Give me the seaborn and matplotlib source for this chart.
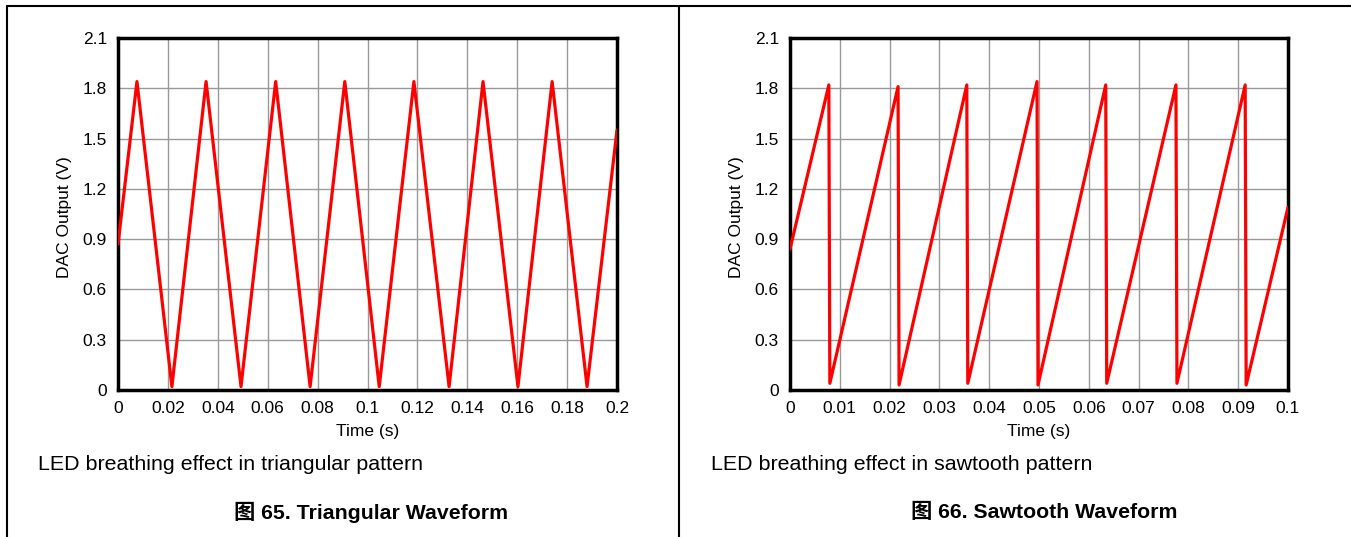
import numpy as np
import pandas as pd
import matplotlib.pyplot as plt
import matplotlib.ticker as mticker
from matplotlib.lines import Line2D
import seaborn as sns

sns.set_style("white")
plt.rcParams['font.family'] = ['Liberation Sans', 'Noto Sans CJK SC', 'DejaVu Sans']
plt.rcParams['text.color'] = 'black'
plt.rcParams['axes.labelcolor'] = 'black'

# --- data ---
# triangular waveform (vertices), 0 .. 0.2 s
tri_time = [0.0, 0.0076, 0.0216, 0.0353, 0.0493, 0.0632, 0.0770, 0.0909, 0.1047,
            0.1186, 0.1327, 0.1463, 0.1603, 0.1740, 0.1880, 0.2]
tri_volt = [0.87, 1.84, 0.02, 1.84, 0.02, 1.84, 0.02, 1.84, 0.02,
            1.84, 0.02, 1.84, 0.02, 1.84, 0.02, 1.55]

# sawtooth waveform (vertices), 0 .. 0.1 s
saw_time = [0.0, 0.0078, 0.0080, 0.0217, 0.0219, 0.0355, 0.0357, 0.0496, 0.0498,
            0.0634, 0.0636, 0.0775, 0.0777, 0.0914, 0.0916, 0.1]
saw_volt = [0.84, 1.82, 0.04, 1.81, 0.03, 1.82, 0.04, 1.84, 0.03,
            1.82, 0.04, 1.82, 0.04, 1.82, 0.03, 1.09]

tri_xticks = [0, 0.02, 0.04, 0.06, 0.08, 0.1, 0.12, 0.14, 0.16, 0.18, 0.2]
saw_xticks = [0, 0.01, 0.02, 0.03, 0.04, 0.05, 0.06, 0.07, 0.08, 0.09, 0.1]
yticks = [0, 0.3, 0.6, 0.9, 1.2, 1.5, 1.8, 2.1]

descriptions = ["LED breathing effect in triangular pattern",
                "LED breathing effect in sawtooth pattern"]
captions = ["图 65. Triangular Waveform", "图 66. Sawtooth Waveform"]

tri_df = pd.DataFrame({'time': tri_time, 'volt': tri_volt})
saw_df = pd.DataFrame({'time': saw_time, 'volt': saw_volt})

fig = plt.figure(figsize=(13.51, 5.37), dpi=100)
ax1 = fig.add_axes([118 / 1351, 1 - 390 / 537, 499 / 1351, 352 / 537])
ax2 = fig.add_axes([790 / 1351, 1 - 390 / 537, 498 / 1351, 352 / 537])

panels = [(ax1, tri_df, tri_xticks), (ax2, saw_df, saw_xticks)]
for ax, df, xt in panels:
    sns.lineplot(data=df, x='time', y='volt', ax=ax, color='#ff0000',
                 linewidth=2.3, sort=False, zorder=3)
    ax.set_xlim(xt[0], xt[-1])
    ax.set_ylim(yticks[0], yticks[-1])
    ax.set_xticks(xt)
    ax.set_yticks(yticks)
    ax.xaxis.set_major_formatter(mticker.FormatStrFormatter('%g'))
    ax.yaxis.set_major_formatter(mticker.FormatStrFormatter('%g'))
    ax.grid(True, color='#999999', linewidth=1.0)
    ax.set_axisbelow(True)
    for sp in ax.spines.values():
        sp.set_visible(True)
        sp.set_color('black')
        sp.set_linewidth(2.5)
    ax.tick_params(axis='both', length=0, labelsize=12.5, colors='black')
    ax.tick_params(axis='x', pad=8)
    ax.tick_params(axis='y', pad=8)
    ax.set_xlabel("Time (s)", fontsize=12.5)
    ax.set_ylabel("DAC Output (V)", fontsize=12.5)
    ax.xaxis.set_label_coords(0.5, -0.098)
    ax.yaxis.set_label_coords(-0.092, 0.49)

# captions under each panel
fig.text(38 / 1351, 1 - 465 / 537, descriptions[0], fontsize=15.4, va='center', ha='left')
fig.text(711 / 1351, 1 - 465 / 537, descriptions[1], fontsize=15.4, va='center', ha='left')
fig.text(371 / 1351, 1 - 512 / 537, captions[0], fontsize=15.3, fontweight='bold',
         va='center', ha='center')
fig.text(1044 / 1351, 1 - 512 / 537, captions[1], fontsize=15.3, fontweight='bold',
         va='center', ha='center')

# table-like frame around the two figures
frame_kw = dict(color='black', linewidth=1.5, transform=fig.transFigure)
fig.add_artist(Line2D([7 / 1351, 1.0], [1 - 6 / 537, 1 - 6 / 537], **frame_kw))
fig.add_artist(Line2D([7 / 1351, 7 / 1351], [0, 1 - 6 / 537], **frame_kw))
fig.add_artist(Line2D([679 / 1351, 679 / 1351], [0, 1 - 6 / 537], **frame_kw))

fig.savefig("out.png", dpi=100)
